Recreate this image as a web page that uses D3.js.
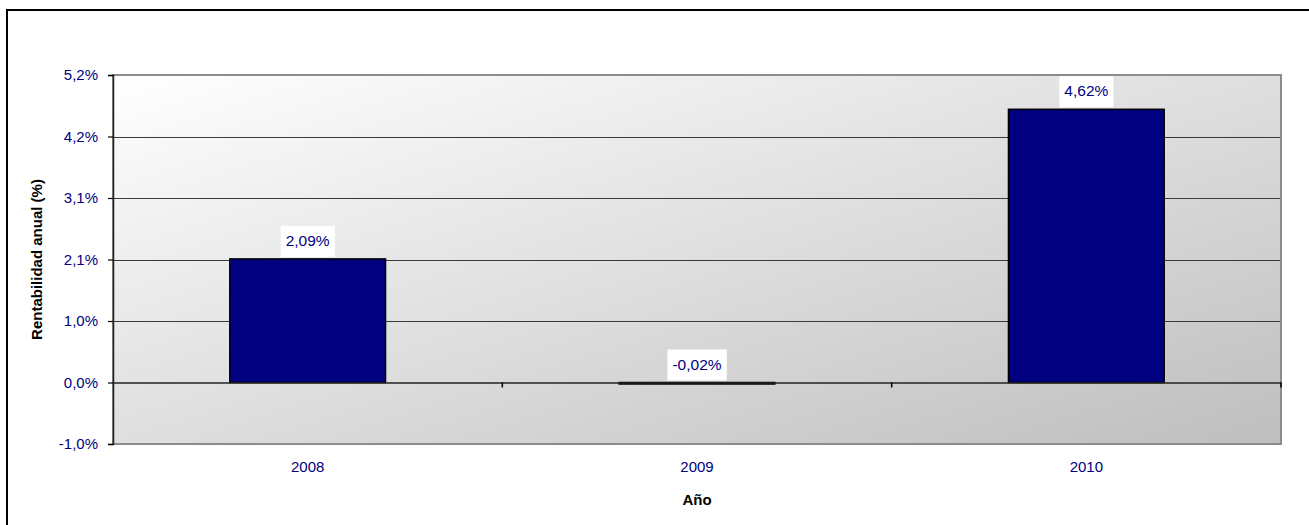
<!DOCTYPE html>
<html>
<head>
<meta charset="utf-8">
<script src="https://cdn.jsdelivr.net/npm/d3@7"></script>
<style>
  html, body { margin: 0; padding: 0; background: #ffffff; }
  svg { display: block; font-family: "Liberation Sans", Arial, sans-serif; }
</style>
</head>
<body>
<svg id="chart" width="1309" height="525"></svg>
<script>
// ---- data ----
const categories = ["2008", "2009", "2010"];
const values = [2.09, -0.02, 4.62];
const valueLabels = ["2,09%", "-0,02%", "4,62%"];
const tickValues = [-1.04, 0, 1.04, 2.08, 3.12, 4.16, 5.2];
const tickLabels = ["-1,0%", "0,0%", "1,0%", "2,1%", "3,1%", "4,2%", "5,2%"];
const yTitle = "Rentabilidad anual (%)";
const xTitle = "Año";

const svg = d3.select("#chart");
const W = 1309, H = 525;
const plot = { left: 113, top: 75, right: 1281, bottom: 444 };
const navy = "#000080";

// outer chart border
svg.append("rect").attr("x", 7).attr("y", 10).attr("width", W + 10).attr("height", H + 10)
  .attr("fill", "#ffffff").attr("stroke", "#000").attr("stroke-width", 2);

// gradient
const defs = svg.append("defs");
const grad = defs.append("linearGradient").attr("id", "bg")
  .attr("x1", "0%").attr("y1", "0%").attr("x2", "100%").attr("y2", "100%");
grad.append("stop").attr("offset", "0%").attr("stop-color", "#ffffff");
grad.append("stop").attr("offset", "100%").attr("stop-color", "#bebebe");

const x = d3.scaleBand().domain(categories).range([plot.left, plot.right]).paddingInner(0).paddingOuter(0);
const y = d3.scaleLinear().domain([tickValues[0], tickValues[tickValues.length - 1]]).range([plot.bottom, plot.top]);

// plot background
svg.append("rect").attr("x", plot.left).attr("y", plot.top)
  .attr("width", plot.right - plot.left).attr("height", plot.bottom - plot.top)
  .attr("fill", "url(#bg)");

// gridlines
svg.append("g").selectAll("line").data(tickValues.filter(v => v !== 0)).join("line")
  .attr("x1", plot.left).attr("x2", plot.right)
  .attr("y1", d => Math.round(y(d)) + 0.5).attr("y2", d => Math.round(y(d)) + 0.5)
  .attr("stroke", "#3a3a3a").attr("stroke-width", 1);

// plot border (gray)
svg.append("rect").attr("x", plot.left).attr("y", plot.top)
  .attr("width", plot.right - plot.left).attr("height", plot.bottom - plot.top)
  .attr("fill", "none").attr("stroke", "#8c8c8c").attr("stroke-width", 2);

// y axis
const yAxis = d3.axisLeft(y).tickValues(tickValues)
  .tickFormat((d, i) => tickLabels[i]).tickSize(5).tickPadding(10);
const gy = svg.append("g").attr("transform", `translate(${plot.left},0)`).call(yAxis);
gy.select(".domain").attr("stroke", "#222").attr("stroke-width", 1.5);
gy.selectAll(".tick line").attr("stroke", "#000").attr("stroke-width", 1.2);
gy.selectAll(".tick text").attr("fill", navy).attr("font-size", 15)
  .attr("font-family", "'Liberation Sans', Arial, sans-serif");

// bars
const barW = x.bandwidth() * 0.4;
svg.append("g").selectAll("rect").data(values).join("rect")
  .attr("x", (d, i) => x(categories[i]) + (x.bandwidth() - barW) / 2)
  .attr("y", d => y(Math.max(0, d)))
  .attr("width", barW)
  .attr("height", d => Math.max(1.5, Math.abs(y(d) - y(0))))
  .attr("fill", navy).attr("stroke", "#000").attr("stroke-width", 1.5);

// x axis at zero
const xAxis = d3.axisBottom(x).tickSize(0).tickFormat("");
const gx = svg.append("g").attr("transform", `translate(0,${y(0)})`).call(xAxis);
gx.select(".domain").attr("stroke", "#222").attr("stroke-width", 1.5);
// category separator ticks
svg.append("g").selectAll("line").data(categories.slice(1).concat(["end"])).join("line")
  .attr("x1", d => d === "end" ? plot.right : x(d))
  .attr("x2", d => d === "end" ? plot.right : x(d))
  .attr("y1", y(0)).attr("y2", y(0) + 5)
  .attr("stroke", "#000").attr("stroke-width", 1.5);

// category labels below plot
svg.append("g").selectAll("text").data(categories).join("text")
  .attr("x", d => x(d) + x.bandwidth() / 2).attr("y", 472)
  .attr("text-anchor", "middle").attr("fill", navy).attr("font-size", 15)
  .text(d => d);

// data labels with white boxes
const lg = svg.append("g");
values.forEach((v, i) => {
  const cx = x(categories[i]) + x.bandwidth() / 2;
  const top = Math.min(y(v), y(0));
  const t = lg.append("text").attr("x", cx).attr("y", top - 13)
    .attr("text-anchor", "middle").attr("fill", navy).attr("font-size", 15.5)
    .text(valueLabels[i]);
  const bb = t.node().getBBox();
  lg.insert("rect", "text").attr("x", bb.x - 5).attr("y", top - 33)
    .attr("width", bb.width + 10).attr("height", 31).attr("fill", "#ffffff");
});

// axis titles
svg.append("text").attr("x", (plot.left + plot.right) / 2 + 0).attr("y", 505)
  .attr("text-anchor", "middle").attr("font-weight", "bold").attr("font-size", 15)
  .attr("fill", "#000").text(xTitle);
svg.append("text").attr("transform", `translate(42,${(plot.top + plot.bottom) / 2}) rotate(-90)`)
  .attr("text-anchor", "middle").attr("font-weight", "bold").attr("font-size", 15)
  .attr("fill", "#000").text(yTitle);
</script>
</body>
</html>
